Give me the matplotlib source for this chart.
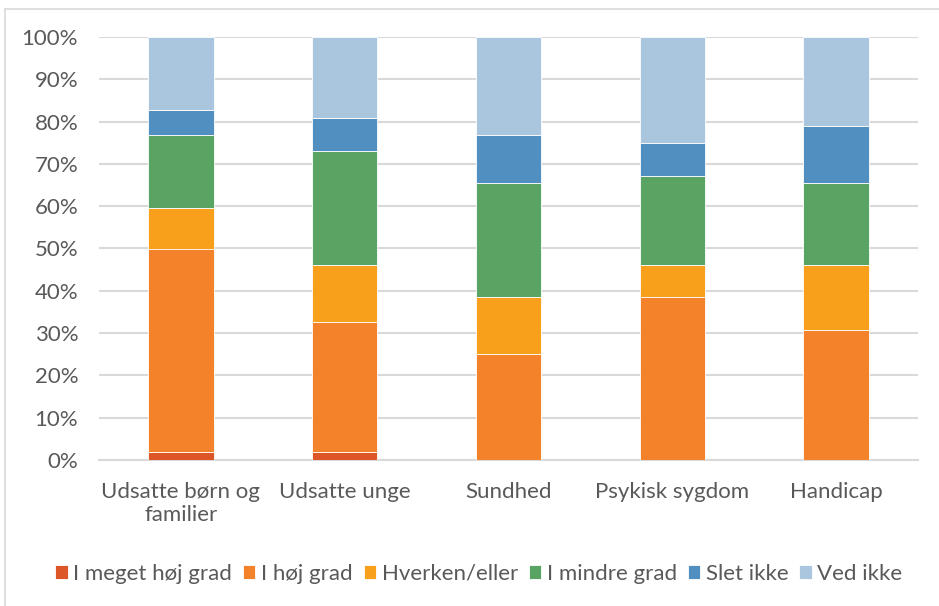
import numpy as np
import matplotlib.pyplot as plt
from matplotlib.lines import Line2D

categories = ["Udsatte børn og\nfamilier", "Udsatte unge", "Sundhed", "Psykisk sygdom", "Handicap"]
series_names = ["I meget høj grad", "I høj grad", "Hverken/eller", "I mindre grad", "Slet ikke", "Ved ikke"]

# shares in percent, one list per series
meget_hoej = [1.9, 1.9, 0.0, 0.0, 0.0]
hoej = [48.1, 30.8, 25.0, 38.5, 30.8]
hverken = [9.6, 13.5, 13.5, 7.7, 15.4]
mindre = [17.3, 26.9, 26.9, 21.0, 19.2]
slet_ikke = [5.8, 7.7, 11.5, 7.7, 13.5]
ved_ikke = [17.3, 19.2, 23.1, 25.1, 21.1]

series = [meget_hoej, hoej, hverken, mindre, slet_ikke, ved_ikke]
colors = ["#DD5627", "#F3822A", "#F89F1C", "#59A463", "#518FC0", "#A9C6DE"]

plt.rcParams['font.family'] = ['Lato', 'DejaVu Sans']
text_color = "#595959"

fig = plt.figure(figsize=(9.39, 6.06), dpi=100)
ax = fig.add_axes([99 / 939, 146 / 606, 819 / 939, 423 / 606])

x = np.arange(len(categories))
bottom = np.zeros(len(categories))
for name, vals, col in zip(series_names, series, colors):
    vals = np.array(vals)
    ax.bar(x, vals, 0.4, bottom=bottom, color=col, edgecolor="white",
           linewidth=0.6, label=name, zorder=3)
    bottom += vals

ax.set_xlim(-0.5, len(categories) - 0.5)
ax.set_ylim(0, 100)
ax.set_yticks(np.arange(0, 101, 10))
ax.set_yticklabels([f"{v}%" for v in range(0, 101, 10)])
ax.set_xticks(x)
ax.set_xticklabels(categories)
ax.yaxis.grid(True, color="#D9D9D9", linewidth=1.5, zorder=0)
ax.tick_params(axis="both", length=0, labelsize=16, colors=text_color)
ax.tick_params(axis="y", pad=15)
ax.tick_params(axis="x", pad=16)
for s in ["top", "right", "left"]:
    ax.spines[s].set_visible(False)
ax.spines["bottom"].set_color("#D9D9D9")
ax.spines["bottom"].set_linewidth(1.5)
for lbl in ax.get_xticklabels():
    lbl.set_linespacing(1.15)

handles, labels = ax.get_legend_handles_labels()
leg = fig.legend(handles, labels, loc="center", bbox_to_anchor=(0.51, 32 / 606),
                 ncol=6, frameon=False, fontsize=16, handlelength=0.55,
                 handleheight=0.55, handletextpad=0.25, columnspacing=0.5)
for t in leg.get_texts():
    t.set_color(text_color)

# outer chart border (only left and top are inside the picture)
fig.add_artist(Line2D([5 / 939, 5 / 939], [0, 1 - 9 / 606], color="#D9D9D9",
                      linewidth=1.2, transform=fig.transFigure))
fig.add_artist(Line2D([5 / 939, 1], [1 - 9 / 606, 1 - 9 / 606], color="#D9D9D9",
                      linewidth=1.2, transform=fig.transFigure))

fig.savefig("out.png", dpi=100)
